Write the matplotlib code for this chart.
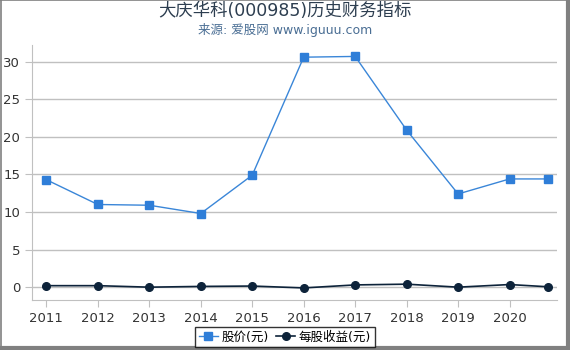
import numpy as np
import matplotlib
matplotlib.use("Agg")
import matplotlib.pyplot as plt
from matplotlib.lines import Line2D

plt.rcParams['font.family'] = ['DejaVu Sans', 'Noto Sans CJK SC']

# data
years = [2011, 2012, 2013, 2014, 2015, 2016, 2017, 2018, 2019, 2020, 2020.75]
year_labels = ['2011', '2012', '2013', '2014', '2015', '2016', '2017', '2018', '2019', '2020']
price = [14.3, 11.0, 10.9, 9.8, 14.9, 30.6, 30.7, 20.9, 12.4, 14.4, 14.4]
eps = [0.2, 0.2, 0.0, 0.1, 0.15, -0.1, 0.3, 0.4, 0.0, 0.35, 0.05]

fig = plt.figure(figsize=(5.7, 3.5), dpi=100)
ax = fig.add_axes([0.056, 0.143, 0.922, 0.728])

ax.plot(years, price, color='#3a86d8', lw=1, marker='s', ms=5.5,
        markerfacecolor='#2f7ed8', markeredgecolor='#2f7ed8', label='股价(元)')
ax.plot(years, eps, color='#0d233a', lw=1.2, marker='o', ms=5.5,
        markerfacecolor='#0d233a', label='每股收益(元)')

ax.set_xlim(2010.72, 2020.93)
ax.set_ylim(-1.7, 32.2)
ax.set_xticks(years[:-1])
ax.set_xticklabels(year_labels)
ax.set_yticks([0, 5, 10, 15, 20, 25, 30])
ax.grid(axis='y', color='#c0c0c0', lw=1)
ax.set_axisbelow(True)
for s in ['top', 'right']:
    ax.spines[s].set_visible(False)
for s in ['left', 'bottom']:
    ax.spines[s].set_color('#c0c0c0')
ax.tick_params(colors='#c0c0c0', labelcolor='#333333', labelsize=9.5, length=5)

fig.text(0.5, 0.968, '大庆华科(000985)历史财务指标', ha='center', va='center',
         fontsize=12.5, color='#2d3e50')
fig.text(0.5, 0.915, '来源: 爱股网 www.iguuu.com', ha='center', va='center',
         fontsize=9, color='#4a6e94')

leg = fig.legend(loc='lower center', bbox_to_anchor=(0.5, 0.008), ncol=2, fontsize=9,
                 frameon=True, fancybox=False, edgecolor='black', handlelength=1.5,
                 handletextpad=0.3, columnspacing=0.6, borderpad=0.3,
                 borderaxespad=0.0)
leg.get_frame().set_linewidth(1)

# outer border: thin top/left, thick right/bottom
fig.lines.append(Line2D([0.001, 0.001], [0, 1], transform=fig.transFigure, color='#808080', lw=1.2))
fig.lines.append(Line2D([0, 1], [0.999, 0.999], transform=fig.transFigure, color='#808080', lw=1.2))
fig.lines.append(Line2D([0.9965, 0.9965], [0, 1], transform=fig.transFigure, color='#808080', lw=3))
fig.lines.append(Line2D([0, 1], [0.0055, 0.0055], transform=fig.transFigure, color='#808080', lw=3))

fig.savefig('out.png', dpi=100)
